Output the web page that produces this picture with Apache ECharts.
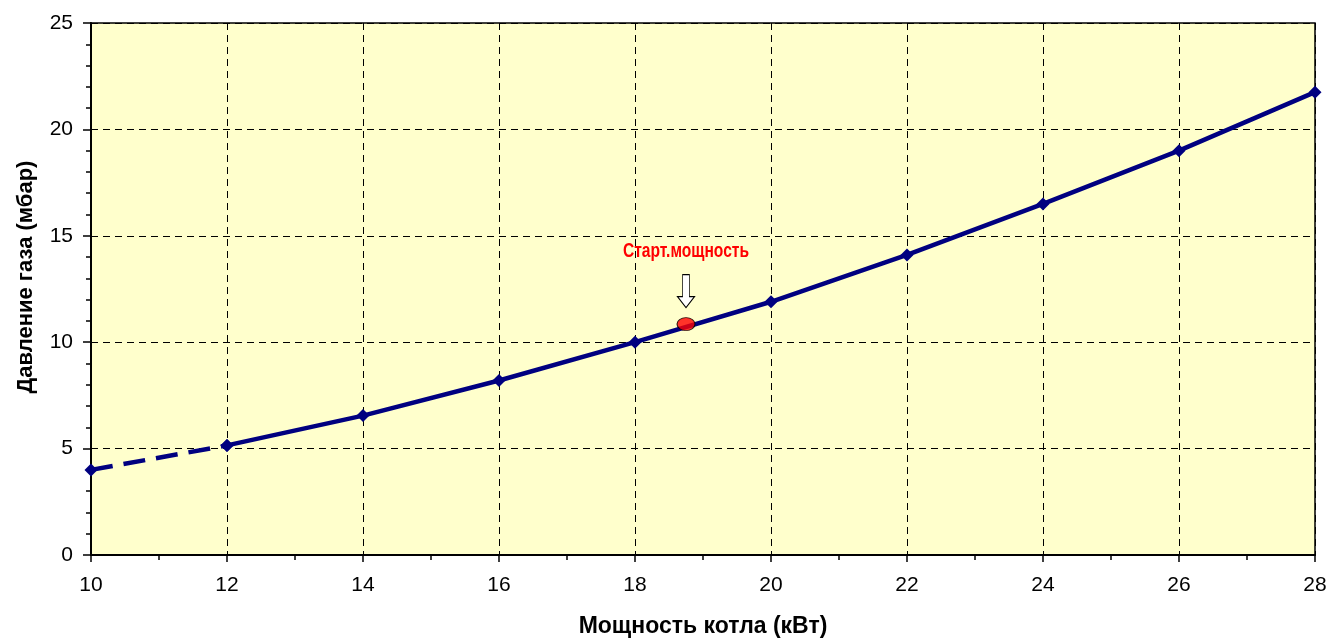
<!DOCTYPE html>
<html>
<head>
<meta charset="utf-8">
<script src="https://cdn.jsdelivr.net/npm/echarts@6/dist/echarts.min.js"></script>
<style>
html,body{margin:0;padding:0;background:#fff;}
#chart{width:1332px;height:644px;}
</style>
</head>
<body>
<div id="chart"></div>
<script>
// Data
const powerKw = [10, 12, 14, 16, 18, 20, 22, 24, 26, 28];
const pressureMbar = [4.0, 5.15, 6.55, 8.2, 10.0, 11.9, 14.1, 16.5, 19.0, 21.75];
const startPower = [18.75];
const startPressure = [10.85];
const startLabel = 'Старт.мощность';
const xAxisTitle = 'Мощность котла (кВт)';
const yAxisTitle = 'Давление газа (мбар)';

const pairs = powerKw.map((x, i) => [x, pressureMbar[i]]);
const dashedPart = pairs.slice(0, 2);
const solidPart = pairs.slice(1);
const startPoint = startPower.map((x, i) => [x, startPressure[i]]);

const font = '"Liberation Sans", Arial, sans-serif';
const navy = '#000080';

const chart = echarts.init(document.getElementById('chart'));
chart.setOption({
  animation: false,
  backgroundColor: '#ffffff',
  grid: {
    left: 91, top: 23, right: 17, bottom: 89,
    show: true, backgroundColor: '#FFFFCC', borderColor: '#000', borderWidth: 1.5
  },
  xAxis: {
    type: 'value', min: 10, max: 28, interval: 2,
    name: xAxisTitle, nameLocation: 'middle', nameGap: 60,
    nameTextStyle: { fontFamily: font, fontSize: 23, fontWeight: 'bold', color: '#000' },
    axisLine: { onZero: false, lineStyle: { color: '#000', width: 2 } },
    axisTick: { show: true, inside: false, length: 7, lineStyle: { color: '#000', width: 1.5 } },
    minorTick: { show: true, splitNumber: 2, length: 5, lineStyle: { color: '#000', width: 1.5 } },
    axisLabel: { fontFamily: font, fontSize: 21, color: '#000', margin: 20 },
    splitLine: { show: true, lineStyle: { color: '#000', width: 1, type: [7, 5] } }
  },
  yAxis: {
    type: 'value', min: 0, max: 25, interval: 5,
    name: yAxisTitle, nameLocation: 'middle', nameGap: 54,
    nameTextStyle: { fontFamily: font, fontSize: 22, fontWeight: 'bold', color: '#000', padding: [0, 0, 0, 24] },
    axisLine: { show: true, lineStyle: { color: '#000', width: 2 } },
    axisTick: { show: true, inside: false, length: 8, lineStyle: { color: '#000', width: 1.5 } },
    minorTick: { show: true, splitNumber: 5, length: 5, lineStyle: { color: '#000', width: 1.5 } },
    axisLabel: { fontFamily: font, fontSize: 21, color: '#000', margin: 18 },
    splitLine: { show: true, lineStyle: { color: '#000', width: 1, type: [7, 5] } }
  },
  series: [
    {
      type: 'line', data: dashedPart, z: 3,
      lineStyle: { color: navy, width: 4.5, type: [22, 11] },
      symbol: 'diamond', symbolSize: 13, showAllSymbol: true,
      itemStyle: { color: navy }
    },
    {
      type: 'line', data: solidPart, z: 4,
      lineStyle: { color: navy, width: 4.5 },
      symbol: 'diamond', symbolSize: 13, showAllSymbol: true,
      itemStyle: { color: navy }
    },
    {
      type: 'scatter', data: startPoint, z: 6,
      symbol: 'circle', symbolSize: [18, 13],
      itemStyle: { color: '#FF0000', borderColor: '#000', borderWidth: 1 },
      markPoint: {
        silent: true,
        data: [
          {
            coord: startPoint[0],
            symbol: 'path://M3,0 L7,0 L7,12 L10,12 L5,18 L0,12 L3,12 Z',
            symbolSize: [17, 33], symbolOffset: [0, -33],
            itemStyle: { color: '#fff', borderColor: '#000', borderWidth: 1 },
            label: { show: false }
          }
        ]
      }
    }
  ]
});

// Condensed red annotation placed at the data point via the chart's own scale
const px = chart.convertToPixel({ gridIndex: 0 }, startPoint[0]);
chart.setOption({
  graphic: [{
    type: 'text', x: px[0], y: px[1] - 73, scaleX: 0.78, z: 10, silent: true,
    style: {
      text: startLabel, fill: '#FF0000', align: 'center', verticalAlign: 'middle',
      font: 'bold 20px "Liberation Sans", Arial, sans-serif'
    }
  }]
});
</script>
</body>
</html>
